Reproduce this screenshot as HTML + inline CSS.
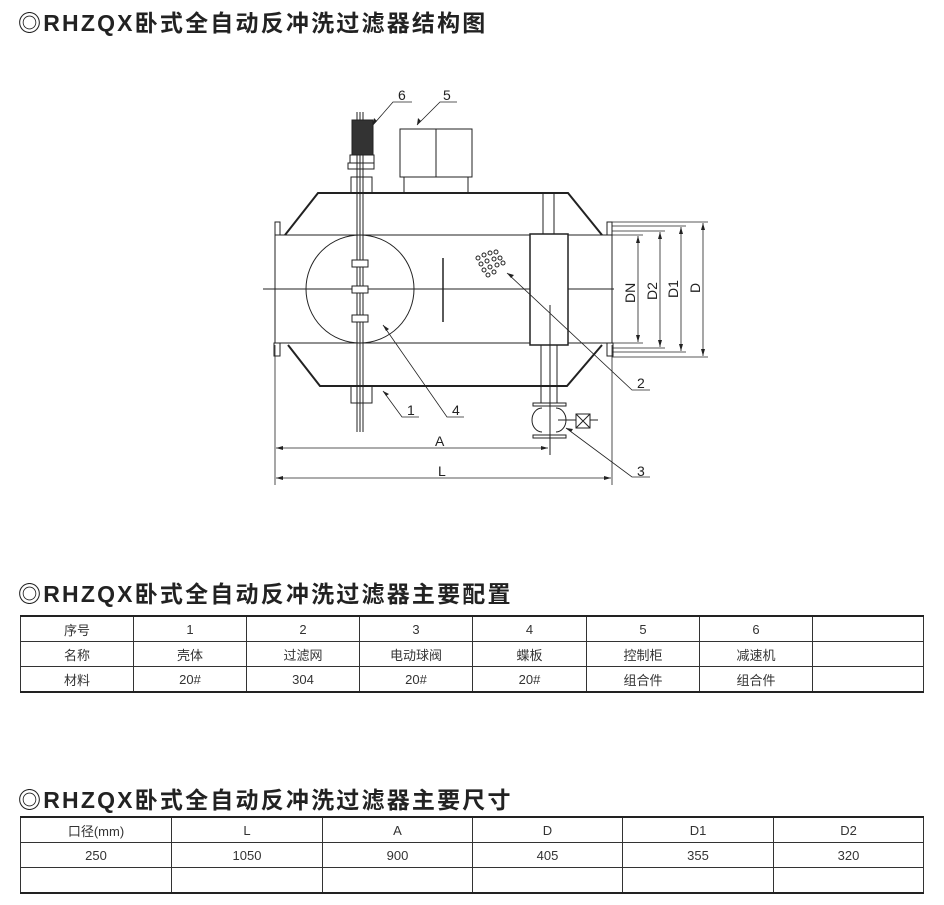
<!DOCTYPE html>
<html><head><meta charset="utf-8"><style>
body{margin:0;width:944px;height:905px;background:#fff;position:relative;overflow:hidden;font-family:"Liberation Sans","Noto Sans CJK SC",sans-serif;color:#222}
.t{position:absolute;left:18px;font-size:23px;font-weight:bold;letter-spacing:2.2px;font-family:"Liberation Sans","Noto Sans CJK SC",sans-serif;}
table{position:absolute;left:20px;border-collapse:collapse;font-size:13px;color:#333}
td{border:1px solid #333;text-align:center;padding:0;height:24px}
table{border-top:2px solid #222;border-bottom:2px solid #222}
</style></head><body>
<div class="t" style="top:4px">◎RHZQX卧式全自动反冲洗过滤器结构图</div>
<div class="t" style="top:575px">◎RHZQX卧式全自动反冲洗过滤器主要配置</div>
<div class="t" style="top:781px">◎RHZQX卧式全自动反冲洗过滤器主要尺寸</div>

<svg width="944" height="905" style="position:absolute;left:0;top:0" fill="none" stroke="#222" stroke-width="1">
<g font-family="Liberation Sans" font-size="14" fill="#222" stroke="none">
<text x="398" y="100">6</text><text x="443" y="100">5</text>
<text x="637" y="388">2</text><text x="407" y="415">1</text><text x="452" y="415">4</text><text x="637" y="476">3</text>
<text x="435" y="446">A</text><text x="438" y="476">L</text>
<text transform="translate(635,303) rotate(-90)">DN</text>
<text transform="translate(657,300) rotate(-90)">D2</text>
<text transform="translate(678,298) rotate(-90)">D1</text>
<text transform="translate(700,293) rotate(-90)">D</text>
</g>
<path d="M285 235 L318 193 L568 193 L602 235" stroke-width="2"/>
<path d="M288 345 L320 386 L567 386 L602 345" stroke-width="2"/>
<line x1="275" y1="235" x2="612" y2="235"/><line x1="275" y1="343" x2="612" y2="343"/>
<line x1="275" y1="235" x2="275" y2="343"/><line x1="612" y1="235" x2="612" y2="343"/>
<rect x="275" y="222" width="5" height="13"/><rect x="274" y="343" width="6" height="13"/>
<rect x="607" y="222" width="5" height="13"/><rect x="607" y="343" width="6" height="13"/>
<line x1="263" y1="289" x2="614" y2="289"/>
<circle cx="360" cy="289" r="54"/>
<line x1="443" y1="258" x2="443" y2="322" stroke-width="1.5"/>
<line x1="357" y1="112" x2="357" y2="432"/><line x1="363" y1="112" x2="363" y2="432"/><line x1="360" y1="112" x2="360" y2="432"/>
<rect x="352" y="260" width="16" height="7" fill="#fff"/><rect x="352" y="286" width="16" height="7" fill="#fff"/><rect x="352" y="315" width="16" height="7" fill="#fff"/>
<rect x="352" y="120" width="21" height="35" fill="#333"/>
<rect x="350" y="155" width="24" height="8"/><rect x="348" y="163" width="26" height="6"/>
<rect x="351" y="177" width="21" height="16"/>
<rect x="351" y="386" width="21" height="17"/>
<rect x="400" y="129" width="72" height="48"/><line x1="436" y1="129" x2="436" y2="177"/>
<line x1="404" y1="177" x2="404" y2="193"/><line x1="468" y1="177" x2="468" y2="193"/>
<rect x="530" y="234" width="38" height="111" fill="#fff" stroke-width="1.5"/>
<line x1="543" y1="193" x2="543" y2="234"/><line x1="554" y1="193" x2="554" y2="234"/>
<line x1="541" y1="345" x2="541" y2="403"/><line x1="557" y1="345" x2="557" y2="403"/><line x1="550" y1="305" x2="550" y2="455"/>
<rect x="533" y="403" width="33" height="3"/><rect x="533" y="435" width="33" height="3"/>
<path d="M542 408 A10 12 0 0 0 542 432 M556 408 A10 12 0 0 1 556 432"/>
<line x1="558" y1="420" x2="576" y2="420"/><line x1="590" y1="420" x2="598" y2="420"/>
<rect x="576" y="414" width="14" height="14"/><path d="M576 414 L590 428 M590 414 L576 428"/>
<g stroke-width="1">
<circle cx="478" cy="258" r="2"/><circle cx="484" cy="255" r="2"/><circle cx="490" cy="253" r="2"/><circle cx="496" cy="252" r="2"/><circle cx="481" cy="264" r="2"/><circle cx="487" cy="261" r="2"/><circle cx="494" cy="259" r="2"/><circle cx="500" cy="258" r="2"/><circle cx="484" cy="270" r="2"/><circle cx="490" cy="267" r="2"/><circle cx="497" cy="265" r="2"/><circle cx="503" cy="263" r="2"/><circle cx="488" cy="275" r="2"/><circle cx="494" cy="272" r="2"/>
</g>
<g stroke-width="0.8">
<line x1="612" y1="222" x2="708" y2="222"/><line x1="612" y1="226" x2="686" y2="226"/><line x1="612" y1="231" x2="665" y2="231"/><line x1="612" y1="235" x2="643" y2="235"/>
<line x1="612" y1="343" x2="643" y2="343"/><line x1="612" y1="348" x2="665" y2="348"/><line x1="612" y1="352" x2="686" y2="352"/><line x1="612" y1="357" x2="708" y2="357"/>
<line x1="638" y1="236" x2="638" y2="342"/><line x1="660" y1="232" x2="660" y2="347"/><line x1="681" y1="227" x2="681" y2="351"/><line x1="703" y1="223" x2="703" y2="356"/>
<line x1="275" y1="345" x2="275" y2="485"/><line x1="612" y1="345" x2="612" y2="485"/>
<line x1="276" y1="448" x2="548" y2="448"/><line x1="276" y1="478" x2="611" y2="478"/>
<polyline points="373,125 393,102 412,102"/><polyline points="417,125 440,102 457,102"/>
<polyline points="507,273 632,390 650,390"/><polyline points="383,391 402,417 419,417"/>
<polyline points="383,325 447,417 464,417"/><polyline points="566,428 632,477 650,477"/>
</g>
<g fill="#222" stroke="none">
<path d="M638 236 l-2 7 h4z M638 342 l-2 -7 h4z M660 232 l-2 7 h4z M660 347 l-2 -7 h4z M681 227 l-2 7 h4z M681 351 l-2 -7 h4z M703 223 l-2 7 h4z M703 356 l-2 -7 h4z"/>
<path d="M276 448 l7 -2 v4z M548 448 l-7 -2 v4z M276 478 l7 -2 v4z M611 478 l-7 -2 v4z"/>
<path d="M373 125 l1 -7 l3 3z M417 125 l1 -7 l3 3z M507 273 l7 2 l-3 3z M383 391 l6 3 l-3 2z M383 325 l6 4 l-3 2z M566 428 l7 1 l-2 3z"/>
</g>
</svg>

<table style="top:615px;width:904px">
<colgroup><col style="width:113px"><col style="width:113px"><col style="width:113px"><col style="width:113px"><col style="width:114px"><col style="width:113px"><col style="width:113px"><col></colgroup>
<tr><td>序号</td><td>1</td><td>2</td><td>3</td><td>4</td><td>5</td><td>6</td><td></td></tr>
<tr><td>名称</td><td>壳体</td><td>过滤网</td><td>电动球阀</td><td>蝶板</td><td>控制柜</td><td>减速机</td><td></td></tr>
<tr><td>材料</td><td>20#</td><td>304</td><td>20#</td><td>20#</td><td>组合件</td><td>组合件</td><td></td></tr>
</table>
<table style="top:816px;width:904px">
<colgroup><col style="width:151px"><col style="width:151px"><col style="width:150px"><col style="width:150px"><col style="width:151px"><col></colgroup>
<tr><td>口径(mm)</td><td>L</td><td>A</td><td>D</td><td>D1</td><td>D2</td></tr>
<tr><td>250</td><td>1050</td><td>900</td><td>405</td><td>355</td><td>320</td></tr>
<tr><td></td><td></td><td></td><td></td><td></td><td></td></tr>
</table>
</body></html>
